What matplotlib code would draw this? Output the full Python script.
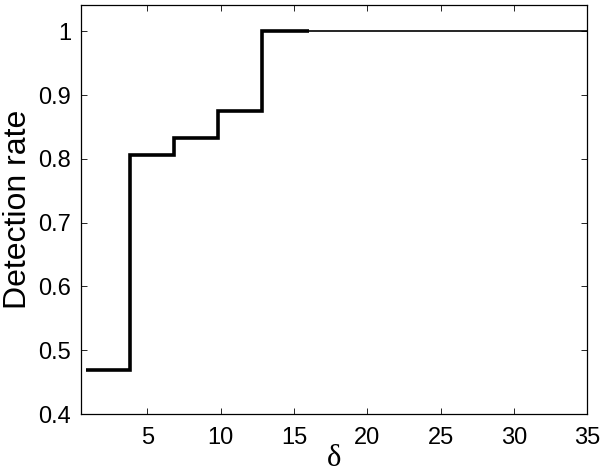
import matplotlib
matplotlib.use("Agg")
import matplotlib.pyplot as plt

# step edges and detection rate on each step
delta_edges = [0.8, 3.8, 6.8, 9.8, 12.8, 35]
rates = [0.469, 0.806, 0.833, 0.875, 1.0]
thick_until = 16  # the export drew the 1.0 tail thinner beyond here

x_ticks = [5, 10, 15, 20, 25, 30, 35]
y_ticks = [0.4, 0.5, 0.6, 0.7, 0.8, 0.9, 1.0]
y_tick_labels = ["0.4", "0.5", "0.6", "0.7", "0.8", "0.9", "1"]

plt.rcParams["font.family"] = ["Liberation Sans", "DejaVu Sans"]

fig = plt.figure(figsize=(6, 4.75), dpi=100)
ax = fig.add_axes([0.1345, 0.1284, 0.8445, 0.8606])

# main stairs up to thick_until
xs = delta_edges[:-1] + [thick_until]
ax.stairs(rates, xs, color="black", linewidth=2.6, baseline=None)
ax.plot([thick_until, delta_edges[-1]], [rates[-1], rates[-1]],
        color="black", linewidth=1.2)

ax.set_xlim(0.45, 35)
ax.set_ylim(0.4, 1.041)
ax.set_xticks(x_ticks)
ax.set_yticks(y_ticks)
ax.set_yticklabels(y_tick_labels)
ax.tick_params(direction="in", length=4, width=0.6, labelsize=17,
               top=True, right=True)
ax.tick_params(axis="x", pad=9)
ax.tick_params(axis="y", pad=7)
for s in ax.spines.values():
    s.set_linewidth(0.9)

ax.set_ylabel("Detection rate", fontsize=23, labelpad=4)
ax.set_xlabel("δ", fontsize=22, family=["Liberation Serif", "DejaVu Serif"],
              labelpad=-3)

fig.savefig("out.png", dpi=100)
